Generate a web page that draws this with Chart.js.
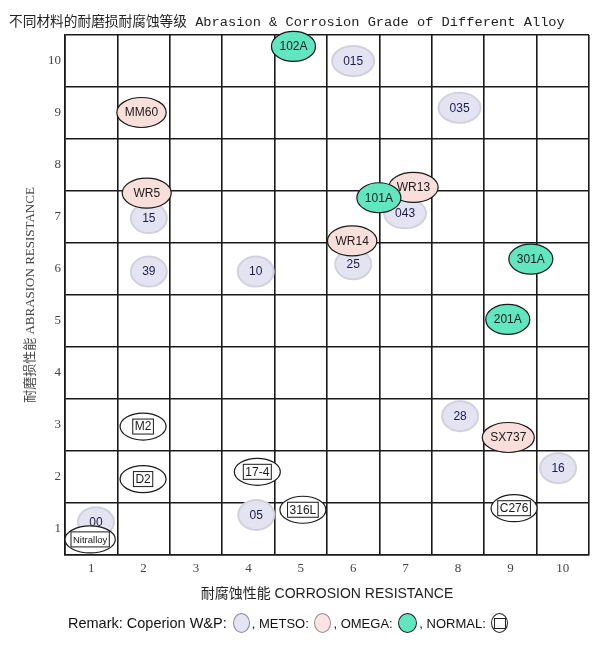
<!DOCTYPE html>
<html>
<head>
<meta charset="utf-8">
<script src="https://cdn.jsdelivr.net/npm/chart.js@4.4.1/dist/chart.umd.min.js"></script>
<style>
  body { margin: 0; background: #fff; }
  #wrap { position: relative; width: 600px; height: 647px; }
  #title {
    position: absolute; left: 9px; top: 10px;
    font: 13.7px "Liberation Mono", "Noto Sans CJK SC", monospace;
    color: #222; white-space: nowrap;
  }
  #remark {
    position: absolute; left: 68px; top: 614px;
    font: 14.5px "Liberation Sans", Arial, sans-serif;
    color: #111; white-space: nowrap;
  }
  #remark .sm { font-size: 13px; }
  .dot {
    display: inline-block; width: 17px; height: 20px; border-radius: 50%;
    vertical-align: middle; margin: 0 2px; position: relative; top: -1px;
    box-sizing: border-box;
  }
  .dot.cop { background: #e4e4f3; border: 1.5px solid #8a8a9c; }
  .dot.met { background: #fbe3e6; border: 1.5px solid #9a8a8c; }
  .dot.ome { background: #62e6bf; border: 1.5px solid #222; width: 19px; }
  .dot.nor { background: #fff; border: 1.5px solid #222; width: 17px; }
  .dot.nor::after {
    content: ""; position: absolute; left: 2px; top: 4px; width: 10px; height: 9px;
    border: 1px solid #222;
  }
</style>
</head>
<body>
<div id="wrap">
  <canvas id="gradeChart"></canvas>
  <div id="title">不同材料的耐磨损耐腐蚀等级 Abrasion &amp; Corrosion Grade of Different Alloy</div>
  <div id="remark">Remark: Coperion W&amp;P: <span class="dot cop"></span><span class="sm">, METSO: </span><span class="dot met"></span><span class="sm">, OMEGA: </span><span class="dot ome"></span><span class="sm">, NORMAL: </span><span class="dot nor"></span></div>
</div>
<script>
// Grade values (x = corrosion, y = abrasion)
const gradeTicks = [1, 2, 3, 4, 5, 6, 7, 8, 9, 10];

const coperionLabels = ['015', '035', '15', '043', '39', '10', '25', '28', '16', '05', '00'];
const coperionCorrosion = [6.0, 8.03, 2.1, 6.99, 2.1, 4.14, 6.0, 8.04, 9.91, 4.15, 1.09];
const coperionAbrasion = [10.0, 9.1, 6.98, 7.07, 5.95, 5.95, 6.09, 3.17, 2.17, 1.27, 1.13];

const metsoLabels = ['MM60', 'WR5', 'WR13', 'WR14', 'SX737'];
const metsoCorrosion = [1.96, 2.06, 7.15, 5.98, 8.96];
const metsoAbrasion = [9.01, 7.46, 7.57, 6.54, 2.76];

const omegaLabels = ['102A', '101A', '301A', '201A'];
const omegaCorrosion = [4.86, 6.49, 9.39, 8.95];
const omegaAbrasion = [10.28, 7.37, 6.19, 5.03];

const normalLabels = ['M2', 'D2', '17-4', '316L', 'Nitralloy', 'C276'];
const normalCorrosion = [1.99, 1.99, 4.17, 5.04, 0.98, 9.07];
const normalAbrasion = [2.97, 1.96, 2.1, 1.37, 0.8, 1.4];

// Marker look for each supplier
const markerStyles = {
    coperion: { fill: '#e3e3f2', stroke: '#d2d2de', lineWidth: 2, text: '#1b1b4d', w: 36, h: 30, pad: 22 },
    metso: { fill: '#f9dfdb', stroke: '#1a1a1a', lineWidth: 1.2, text: '#1a1a1a', w: 49, h: 30, pad: 16 },
    omega: { fill: '#62e6bf', stroke: '#1a1a1a', lineWidth: 1.2, text: '#1a1a1a', w: 44, h: 30, pad: 16 },
    normal: { fill: '#ffffff', stroke: '#1a1a1a', lineWidth: 1.2, text: '#1a1a1a', w: 46, h: 27, pad: 16, box: true }
};

function toPoints(xs, ys) {
    return xs.map((x, i) => ({ x: x, y: ys[i] }));
}

function makeDataset(group, labels, xs, ys) {
    return {
        label: group,
        group: group,
        names: labels,
        data: toPoints(xs, ys),
        pointRadius: 0,
        pointHoverRadius: 0,
        clip: false
    };
}

// Draw ellipse + label at each point position given by the scales
const markerPlugin = {
    id: 'markers',
    afterDatasetsDraw(chart) {
        const ctx = chart.ctx;
        chart.data.datasets.forEach((ds, i) => {
            const st = markerStyles[ds.group];
            const meta = chart.getDatasetMeta(i);
            meta.data.forEach((pt, j) => {
                const name = ds.names[j];
                const small = name.length > 6;
                ctx.save();
                ctx.font = (small ? '9.5px' : '12px') + ' "Liberation Sans", Arial, sans-serif';
                const tw = ctx.measureText(name).width;
                const w = Math.max(st.w, tw + st.pad);
                ctx.beginPath();
                ctx.ellipse(pt.x, pt.y, w / 2, st.h / 2, 0, 0, Math.PI * 2);
                ctx.fillStyle = st.fill;
                ctx.fill();
                ctx.lineWidth = st.lineWidth;
                ctx.strokeStyle = st.stroke;
                ctx.stroke();
                if (st.box) {
                    ctx.lineWidth = 1;
                    ctx.strokeRect(pt.x - tw / 2 - 2, pt.y - 7.5, tw + 4, 15);
                }
                ctx.fillStyle = st.text;
                ctx.textAlign = 'center';
                ctx.textBaseline = 'middle';
                ctx.fillText(name, pt.x, pt.y + 0.5);
                ctx.restore();
            });
        });
    }
};

function fixTicks(scale) {
    scale.ticks = gradeTicks.map(v => ({ value: v }));
}

const tickFont = { family: '"Liberation Serif", "DejaVu Serif", serif', size: 13 };

new Chart(document.getElementById('gradeChart'), {
    type: 'scatter',
    data: {
        datasets: [
            makeDataset('coperion', coperionLabels, coperionCorrosion, coperionAbrasion),
            makeDataset('metso', metsoLabels, metsoCorrosion, metsoAbrasion),
            makeDataset('omega', omegaLabels, omegaCorrosion, omegaAbrasion),
            makeDataset('normal', normalLabels, normalCorrosion, normalAbrasion)
        ]
    },
    options: {
        responsive: true,
        maintainAspectRatio: false,
        animation: false,
        events: [],
        layout: { padding: { top: 35, right: 11, bottom: 42, left: 0 } },
        plugins: {
            legend: { display: false },
            tooltip: { enabled: false }
        },
        scales: {
            x: {
                type: 'linear',
                min: 0.5,
                max: 10.5,
                afterBuildTicks: fixTicks,
                afterFit: s => { s.height = 50; },
                grid: { offset: true, color: '#1a1a1a', lineWidth: 1.6, drawTicks: false },
                border: { color: '#1a1a1a', width: 1.6 },
                ticks: { color: '#444', font: tickFont, padding: 6 },
                title: {
                    display: true,
                    text: '耐腐蚀性能 CORROSION RESISTANCE',
                    color: '#222',
                    font: { family: '"Liberation Sans", "Noto Sans CJK SC", sans-serif', size: 14 },
                    padding: { top: 0, bottom: 2 }
                }
            },
            y: {
                type: 'linear',
                min: 0.5,
                max: 10.5,
                afterBuildTicks: fixTicks,
                afterFit: s => { s.width = 65; },
                grid: { offset: true, color: '#1a1a1a', lineWidth: 1.6, drawTicks: false },
                border: { color: '#1a1a1a', width: 1.6 },
                ticks: { color: '#444', font: tickFont, padding: 4 },
                title: {
                    display: true,
                    text: '耐磨损性能 ABRASION RESISTANCE',
                    color: '#444',
                    font: { family: '"Liberation Serif", "Noto Sans CJK SC", serif', size: 13 },
                    padding: { top: 23, bottom: 0 }
                }
            }
        }
    },
    plugins: [markerPlugin]
});
</script>
</body>
</html>
